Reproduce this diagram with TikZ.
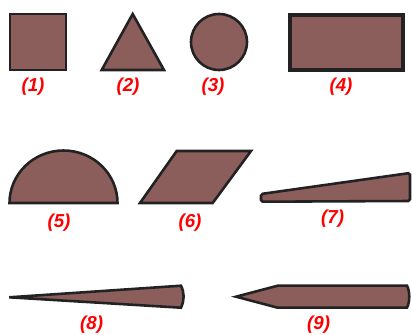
\documentclass[tikz,border=0pt]{standalone}
\usepackage{fontspec}
\setmainfont{Liberation Sans}
\definecolor{brownfill}{RGB}{139,94,92}
\definecolor{edgegray}{RGB}{34,34,34}
\usetikzlibrary{calc}

\begin{document}
\begin{tikzpicture}[x=0.03cm, y=-0.03cm,
    shapebox/.style={fill=brownfill, draw=edgegray, line width=2.2pt},
    tag/.style={text=red, font=\fontsize{16}{16}\selectfont\bfseries\itshape, inner sep=0pt},
  ]
    \useasboundingbox (0,0) rectangle (412,335);
    % first row
    \draw[shapebox] (10,14) rectangle (66,70);
    \draw[shapebox] (132.7,14) -- (164,70) -- (101.7,70) -- cycle;
    \draw[shapebox] (219,42) circle [radius=28];
    \draw[shapebox, line width=3.2pt] (290,15) rectangle (403,70);
    \node[tag] (l1) at (33,87) {(1)};
    \node[tag] (l2) at (128,87) {(2)};
    \node[tag] (l3) at (213,87) {(3)};
    \node[tag] (l4) at (341,87) {(4)};
    % second row
    \draw[shapebox] (9.5,203) arc [start angle=180, end angle=0, x radius=54, y radius=-52.5] -- cycle;
    \draw[shapebox] (140,203) -- (176.7,151) -- (251,151) -- (212.7,203) -- cycle;
    \draw[shapebox, rounded corners=1.5] (261,194) -- (410,173) -- (410,201) -- (261,201.7) -- cycle;
    \node[tag] (l5) at (59,223) {(5)};
    \node[tag] (l6) at (190,223) {(6)};
    \node[tag] (l7) at (332.7,219) {(7)};
    % third row
    \draw[shapebox] (9.3,297.3) -- (181,285.7) .. controls (184.5,293) and (184.5,300) .. (181,307.7) -- cycle;
    \draw[shapebox] (236,296.7) -- (277.7,285.7) -- (407,285.7) .. controls (410,291) and (410,302) .. (407,307.7) -- (277.7,307.7) -- cycle;
    \node[tag] (l8) at (91.7,325) {(8)};
    \node[tag] (l9) at (318.7,325) {(9)};
  \end{tikzpicture}
\end{document}
